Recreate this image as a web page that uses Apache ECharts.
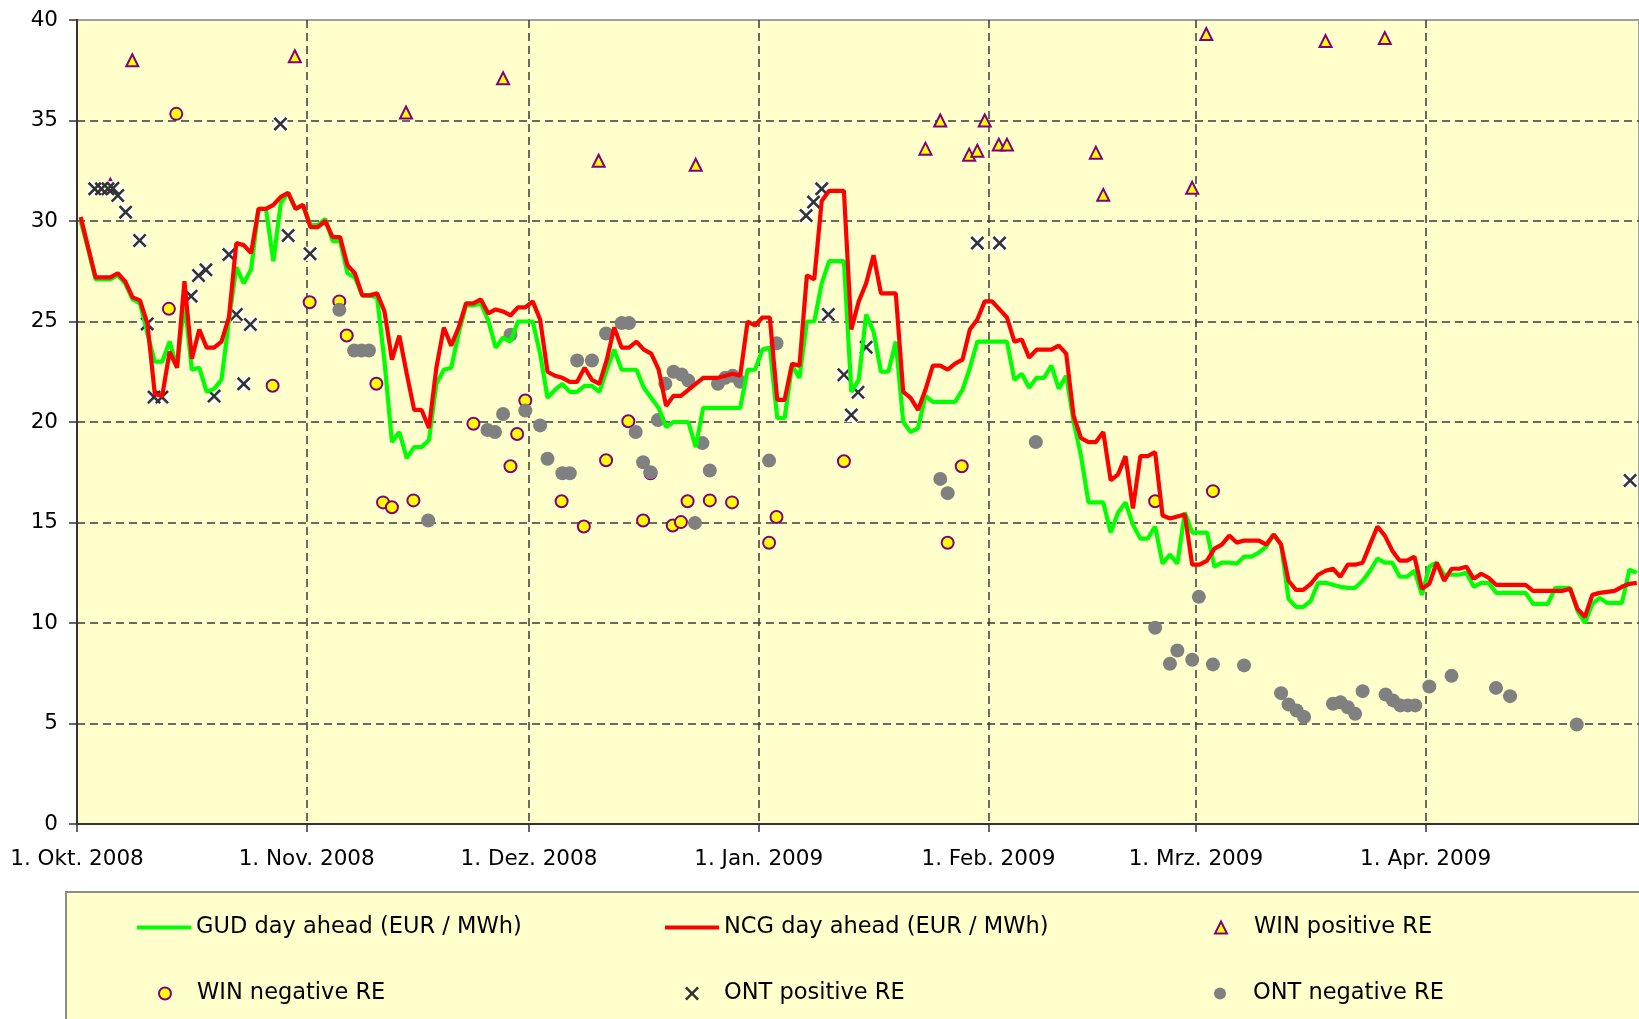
<!DOCTYPE html>
<html>
<head>
<meta charset="utf-8">
<title>GUD / NCG day ahead und Regelenergie</title>
<script src="https://cdn.jsdelivr.net/npm/echarts@6/dist/echarts.min.js"></script>
<style>
  html, body { margin: 0; padding: 0; background: #ffffff; }
  #chart { width: 1639px; height: 1019px; }
</style>
</head>
<body>
<div id="chart"></div>
<script>
// x axis: days since 1. Okt. 2008, the line values are one per day
var START = Date.parse('2008-10-01');
var DAY = 86400000;

var tickDates = ['2008-10-01', '2008-11-01', '2008-12-01', '2009-01-01', '2009-02-01', '2009-03-01', '2009-04-01'];
var tickLabels = ['1. Okt. 2008', '1. Nov. 2008', '1. Dez. 2008', '1. Jan. 2009', '1. Feb. 2009', '1. Mrz. 2009', '1. Apr. 2009'];

// GUD day ahead (EUR / MWh), daily from 1. Okt. 2008
var gudPrices = [
  30.0, 28.6, 27.1, 27.1, 27.1, 27.3, 26.9, 26.1, 25.9, 24.4,
  23.0, 23.0, 24.0, 22.7, 26.0, 22.6, 22.7, 21.5, 21.65, 22.1,
  25.05, 27.7, 26.9, 27.6, 30.6, 30.6, 28.0, 30.9, 31.4, 30.6,
  30.8, 29.8, 29.8, 30.1, 29.0, 29.0, 27.4, 27.2, 26.3, 26.3,
  26.2, 23.0, 19.0, 19.5, 18.2, 18.75, 18.75, 19.1, 21.9, 22.6,
  22.7, 24.4, 25.8, 25.8, 25.9, 25.05, 23.7, 24.2, 24.0, 25.0,
  25.0, 25.0, 23.4, 21.2, 21.6, 21.9, 21.5, 21.5, 21.8, 21.8,
  21.5, 22.6, 23.6, 22.6, 22.6, 22.6, 21.7, 21.2, 20.7, 19.75,
  20.0, 20.0, 20.0, 18.75, 20.7, 20.7, 20.7, 20.7, 20.7, 20.7,
  22.6, 22.6, 23.6, 23.7, 20.2, 20.2, 22.8, 22.2, 25.0, 25.0,
  26.9, 28.0, 28.0, 28.0, 21.5, 22.1, 25.35, 24.5, 22.5, 22.5,
  24.0, 20.0, 19.5, 19.7, 21.3, 21.0, 21.0, 21.0, 21.0, 21.6,
  22.7, 24.0, 24.0, 24.0, 24.0, 24.0, 22.1, 22.4, 21.7, 22.2,
  22.2, 22.8, 21.65, 22.3, 20.0, 18.3, 16.0, 16.0, 16.0, 14.5,
  15.5, 16.0, 14.9, 14.2, 14.2, 14.8, 12.95, 13.4, 12.95, 15.5,
  14.5, 14.5, 14.5, 12.8, 13.0, 13.0, 12.95, 13.3, 13.3, 13.5,
  13.8, 14.4, 13.9, 11.2, 10.8, 10.8, 11.1, 12.0, 12.0, 11.9,
  11.8, 11.75, 11.75, 12.1, 12.6, 13.2, 13.0, 13.0, 12.3, 12.3,
  12.6, 11.4, 12.8, 13.0, 12.4, 12.4, 12.4, 12.5, 11.8, 12.0,
  12.0, 11.5, 11.5, 11.5, 11.5, 11.5, 10.95, 10.95, 10.95, 11.75,
  11.75, 11.75, 10.6, 10.0, 10.95, 11.25, 11.0, 11.0, 11.0, 12.65,
  12.5
];

// NCG day ahead (EUR / MWh), daily from 1. Okt. 2008
var ncgPrices = [
  30.2, 28.7, 27.2, 27.2, 27.2, 27.4, 27.0, 26.2, 26.05, 24.9,
  21.4, 21.3, 23.5, 22.7, 27.0, 23.15, 24.6, 23.7, 23.7, 24.0,
  25.2, 28.9, 28.8, 28.4, 30.6, 30.6, 30.8, 31.2, 31.4, 30.6,
  30.8, 29.7, 29.7, 30.0, 29.2, 29.2, 27.8, 27.4, 26.3, 26.3,
  26.4, 25.5, 23.1, 24.3, 22.4, 20.6, 20.6, 19.7, 22.7, 24.7,
  23.8, 24.7, 25.9, 25.9, 26.1, 25.4, 25.6, 25.5, 25.3, 25.7,
  25.7, 26.0, 25.1, 22.5, 22.3, 22.2, 22.0, 22.0, 22.7, 22.1,
  21.9, 23.1, 24.7, 23.7, 23.7, 24.0, 23.6, 23.4, 22.6, 20.8,
  21.3, 21.3, 21.6, 21.9, 22.2, 22.2, 22.2, 22.3, 22.4, 22.3,
  25.0, 24.8, 25.2, 25.2, 21.1, 21.1, 22.9, 22.8, 27.3, 27.1,
  31.0, 31.5, 31.5, 31.5, 24.6, 26.0, 26.9, 28.3, 26.4, 26.4,
  26.4, 21.5, 21.2, 20.6, 21.6, 22.8, 22.8, 22.6, 22.9, 23.1,
  24.6, 25.1, 26.0, 26.0, 25.6, 25.2, 24.0, 24.1, 23.2, 23.6,
  23.6, 23.6, 23.8, 23.4, 20.3, 19.2, 19.0, 19.0, 19.5, 17.1,
  17.4, 18.3, 15.7, 18.3, 18.3, 18.5, 15.35, 15.2, 15.3, 15.4,
  12.9, 12.9, 13.1, 13.7, 13.9, 14.35, 14.0, 14.1, 14.1, 14.1,
  13.9, 14.4, 13.9, 12.1, 11.65, 11.65, 11.95, 12.4, 12.6, 12.7,
  12.3, 12.9, 12.9, 13.0, 13.9, 14.8, 14.35, 13.6, 13.1, 13.1,
  13.3, 11.7, 11.95, 13.0, 12.1, 12.7, 12.7, 12.8, 12.2, 12.45,
  12.25, 11.9, 11.9, 11.9, 11.9, 11.9, 11.6, 11.6, 11.6, 11.6,
  11.6, 11.7, 10.7, 10.3, 11.4, 11.5, 11.55, 11.6, 11.8, 11.95,
  12.0
];

// Regelenergie events: position in days since 1. Okt. 2008, value in EUR / MWh
var winPosDays = [4.5, 7.46, 29.4, 44.4, 57.5, 70.4, 83.5, 114.5, 116.5, 120.4, 121.5, 122.5, 124.4, 125.5, 137.5, 138.5, 150.5, 152.4, 168.5, 176.5];
var winPosValues = [31.8, 38.0, 38.2, 35.4, 37.1, 33.0, 32.8, 33.6, 35.0, 33.3, 33.5, 35.0, 33.8, 33.8, 33.4, 31.3, 31.65, 39.3, 38.95, 39.1];

var winNegDays = [12.4, 13.4, 26.4, 31.4, 35.4, 36.4, 40.4, 41.3, 42.5, 45.4, 53.5, 58.5, 59.4, 60.5, 65.4, 68.4, 71.4, 74.4, 76.4, 77.4, 80.4, 81.5, 82.4, 85.4, 88.4, 93.4, 94.4, 103.5, 117.5, 119.4, 145.5, 153.3];
var winNegValues = [25.63, 35.33, 21.8, 25.96, 26.0, 24.3, 21.9, 16.0, 15.76, 16.1, 19.91, 17.8, 19.4, 21.07, 16.06, 14.8, 18.1, 20.04, 15.1, 17.45, 14.85, 15.02, 16.06, 16.1, 16.0, 13.99, 15.27, 18.05, 13.99, 17.8, 16.06, 16.56];

var ontPosDays = [2.39, 3.29, 4.18, 4.85, 5.5, 6.56, 8.45, 9.47, 10.4, 11.46, 15.4, 16.4, 17.4, 18.5, 20.5, 21.5, 22.5, 23.4, 27.45, 28.5, 31.45, 98.4, 99.4, 100.5, 101.4, 103.5, 104.5, 105.4, 106.5, 121.5, 124.5, 209.6];
var ontPosValues = [31.6, 31.6, 31.6, 31.63, 31.27, 30.44, 29.03, 24.88, 21.24, 21.24, 26.26, 27.29, 27.57, 21.29, 28.33, 25.35, 21.9, 24.85, 34.83, 29.28, 28.37, 30.27, 30.94, 31.6, 25.35, 22.35, 20.35, 21.48, 23.72, 28.9, 28.9, 17.09];

var ontNegDays = [35.4, 37.4, 38.4, 39.4, 47.4, 55.4, 56.4, 57.5, 58.5, 60.5, 62.5, 63.5, 65.5, 66.5, 67.5, 69.5, 71.4, 73.5, 74.5, 75.4, 76.4, 77.4, 78.4, 79.4, 80.5, 81.6, 82.5, 83.4, 84.4, 85.4, 86.5, 87.5, 88.5, 89.5, 93.4, 94.4, 116.5, 117.5, 129.4, 145.5, 147.5, 148.5, 150.5, 151.4, 153.3, 157.5, 162.5, 163.5, 164.6, 165.6, 169.5, 170.5, 171.5, 172.5, 173.5, 176.6, 177.6, 178.6, 179.6, 180.6, 182.5, 185.5, 191.5, 193.4, 202.4];
var ontNegValues = [25.58, 23.56, 23.56, 23.56, 15.1, 19.6, 19.5, 20.4, 24.34, 20.57, 19.83, 18.17, 17.45, 17.45, 23.06, 23.06, 24.4, 24.92, 24.92, 19.5, 18.0, 17.5, 20.1, 21.9, 22.5, 22.36, 22.06, 14.98, 18.95, 17.59, 21.9, 22.2, 22.3, 22.0, 18.08, 23.92, 17.17, 16.46, 19.0, 9.76, 7.97, 8.63, 8.17, 11.3, 7.94, 7.89, 6.51, 5.95, 5.65, 5.32, 5.98, 6.06, 5.81, 5.48, 6.61, 6.44, 6.15, 5.9, 5.9, 5.9, 6.84, 7.37, 6.77, 6.36, 4.95];

var FONT = 'DejaVu Sans';
// filled x-shaped marker
var CROSS = 'path://M0,1.3L1.3,0L5,3.7L8.7,0L10,1.3L6.3,5L10,8.7L8.7,10L5,6.3L1.3,10L0,8.7L3.7,5Z';

// month starts as day numbers on the x axis
var tickDays = tickDates.map(function (d) { return Math.round((Date.parse(d) - START) / DAY); });

function dailySeries(values) {
  return values.map(function (v, i) { return [i + 0.5, v]; });
}
function eventSeries(days, values) {
  return days.map(function (d, i) { return [d, values[i]]; });
}
function legendItem(name, left, top, icon, w, h, pad) {
  return {
    data: [name], left: left, top: top, padding: 0, icon: icon,
    itemWidth: w, itemHeight: h, selectedMode: false,
    textStyle: { fontFamily: FONT, fontSize: 22.5, color: '#000', padding: [0, 0, 0, pad] }
  };
}

var dash = { color: '#3a3a3a', width: 1.5, type: [8, 5] };

var option = {
  animation: false,
  backgroundColor: '#ffffff',
  graphic: [{
    type: 'rect', z: 0,
    shape: { x: 66, y: 892, width: 1700, height: 300 },
    style: { fill: '#FFFFCC', stroke: '#8c8c8c', lineWidth: 2 }
  }],
  legend: [
    legendItem('GUD day ahead (EUR / MWh)', 137, 916, 'rect', 54, 4, 0),
    legendItem('NCG day ahead (EUR / MWh)', 665, 916, 'rect', 54, 4, 0),
    legendItem('WIN positive RE', 1214, 916, 'triangle', 12, 12, 22),
    legendItem('WIN negative RE', 158, 982, 'circle', 12, 12, 21),
    legendItem('ONT positive RE', 685, 982, CROSS, 14, 14, 20),
    legendItem('ONT negative RE', 1214, 982, 'circle', 12, 12, 22)
  ],
  grid: {
    left: 77, right: -2, top: 20, bottom: 195,
    show: true, backgroundColor: '#FFFFCC', borderColor: '#a0a0a0', borderWidth: 2
  },
  xAxis: {
    type: 'value',
    min: 0,
    max: 210.8,
    axisLine: { lineStyle: { color: '#333', width: 2 } },
    axisTick: { show: true, length: 8, customValues: tickDays, lineStyle: { color: '#333', width: 1.5 } },
    axisLabel: {
      customValues: tickDays,
      fontFamily: FONT, fontSize: 21.5, color: '#000', margin: 24,
      formatter: function (val) {
        var k = tickDays.indexOf(Math.round(val));
        return k >= 0 ? tickLabels[k] : '';
      }
    },
    splitLine: { show: true, showMinLine: false, lineStyle: dash }
  },
  yAxis: {
    type: 'value', min: 0, max: 40, interval: 5,
    axisLine: { show: true, lineStyle: { color: '#333', width: 2 } },
    axisTick: { show: true, length: 8, lineStyle: { color: '#333', width: 1.5 } },
    axisLabel: { fontFamily: FONT, fontSize: 21.5, color: '#000', margin: 19 },
    splitLine: { show: true, showMinLine: false, showMaxLine: false, lineStyle: dash }
  },
  series: [
    {
      name: 'GUD day ahead (EUR / MWh)', type: 'line', symbol: 'none', silent: true,
      itemStyle: { color: '#00ff00' }, lineStyle: { color: '#00ff00', width: 4.2 },
      data: dailySeries(gudPrices)
    },
    {
      name: 'NCG day ahead (EUR / MWh)', type: 'line', symbol: 'none', silent: true,
      itemStyle: { color: '#ff0000' }, lineStyle: { color: '#ff0000', width: 4.2 },
      data: dailySeries(ncgPrices)
    },
    {
      name: 'WIN positive RE', type: 'scatter', symbol: 'triangle', symbolSize: 12, silent: true,
      itemStyle: { color: '#ffff00', borderColor: '#800080', borderWidth: 2, opacity: 1 },
      data: eventSeries(winPosDays, winPosValues)
    },
    {
      name: 'WIN negative RE', type: 'scatter', symbol: 'circle', symbolSize: 12, silent: true,
      itemStyle: { color: '#ffff00', borderColor: '#800080', borderWidth: 2, opacity: 1 },
      data: eventSeries(winNegDays, winNegValues)
    },
    {
      // white box behind the crosses
      name: 'ONT positive box', type: 'scatter', symbol: 'rect', symbolSize: 14, silent: true,
      itemStyle: { color: '#ffffff', opacity: 1 },
      data: eventSeries(ontPosDays, ontPosValues)
    },
    {
      name: 'ONT positive RE', type: 'scatter', symbol: CROSS, symbolSize: 14, silent: true,
      itemStyle: { color: '#333333', opacity: 1 },
      data: eventSeries(ontPosDays, ontPosValues)
    },
    {
      name: 'ONT negative RE', type: 'scatter', symbol: 'circle', symbolSize: 14, silent: true,
      itemStyle: { color: '#808080', opacity: 1 },
      data: eventSeries(ontNegDays, ontNegValues)
    }
  ]
};

var chart = echarts.init(document.getElementById('chart'));
chart.setOption(option);
</script>
</body>
</html>
